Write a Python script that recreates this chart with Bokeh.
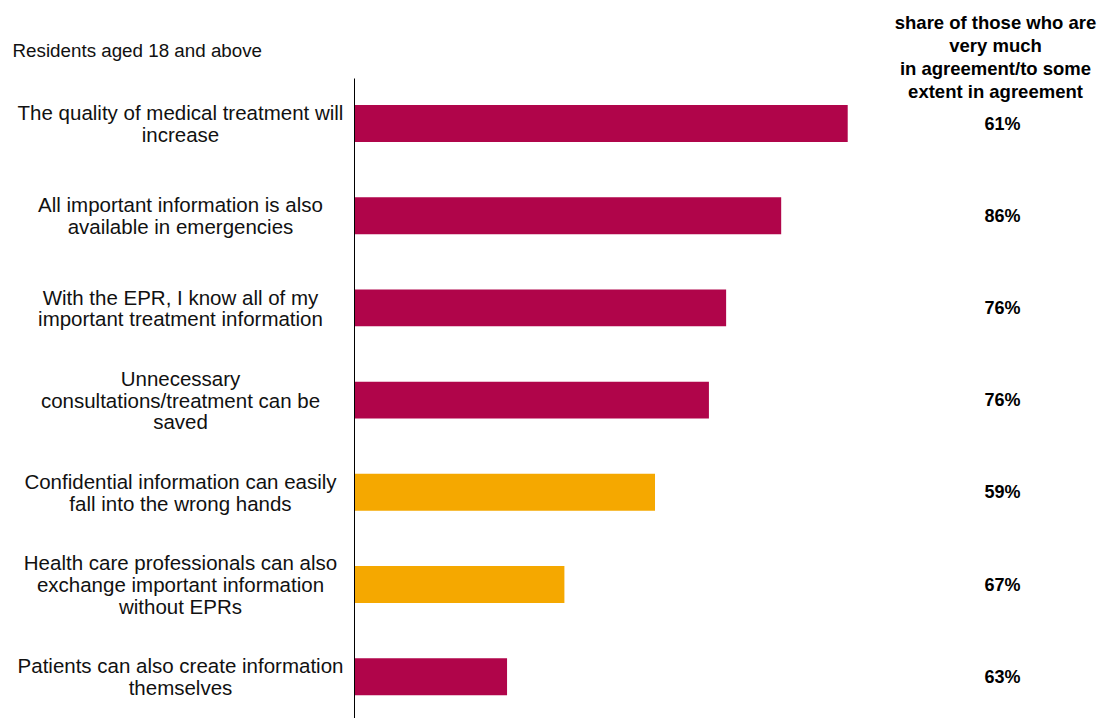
from bokeh.plotting import figure
from bokeh.models import Range1d, ColumnDataSource
from bokeh.core.properties import value
from bokeh.embed import file_html
from bokeh.resources import INLINE

categories = [
    "The quality of medical treatment will\nincrease",
    "All important information is also\navailable in emergencies",
    "With the EPR, I know all of my\nimportant treatment information",
    "Unnecessary\nconsultations/treatment can be\nsaved",
    "Confidential information can easily\nfall into the wrong hands",
    "Health care professionals can also\nexchange important information\nwithout EPRs",
    "Patients can also create information\nthemselves",
]
very_much_agree = [43.0, 37.2, 32.4, 30.9, 26.2, 18.3, 13.3]
share_agree = ["61%", "86%", "76%", "76%", "59%", "67%", "63%"]
statement_type = ["pro", "pro", "pro", "pro", "con", "con", "pro"]
subtitle = "Residents aged 18 and above"
header = "share of those who are\nvery much\nin agreement/to some\nextent in agreement"

COLORS = {"pro": "#B0054A", "con": "#F5A800"}

W, H = 1101, 718
px_per_x = 11.47
x0_px = 354
px_per_y = 92.2
y0_px = 123

xs = -x0_px / px_per_x
xe = xs + W / px_per_x
yt = -y0_px / px_per_y
yb = (H - y0_px) / px_per_y

p = figure(width=W, height=H, output_backend="svg", toolbar_location=None,
           x_range=Range1d(xs, xe), y_range=Range1d(yb, yt),
           min_border=0, outline_line_color=None)
p.axis.visible = False
p.grid.visible = False
p.background_fill_color = "white"

ys = list(range(len(categories)))
src = ColumnDataSource(dict(
    y=ys, v=very_much_agree, cat=categories, share=share_agree,
    color=[COLORS[t] for t in statement_type],
))

p.hbar(y="y", left=0, right="v", height=0.40, fill_color="color",
       line_color=None, source=src)

# vertical axis line
p.segment(x0=[0], y0=[(78 - y0_px) / px_per_y], x1=[0], y1=[yb],
          line_color="#000000", line_width=1)

font = value("Liberation Sans")
p.text(x=(180 - x0_px) / px_per_x, y="y", text="cat", source=src,
       text_font=font, text_font_size="20.5px", text_align="center",
       text_baseline="middle", text_color="#111111", text_line_height=0.94)

p.text(x=(1002 - x0_px) / px_per_x, y="y", text="share", source=src,
       text_font=font, text_font_size="18px", text_font_style="bold",
       text_align="center", text_baseline="middle", text_color="#000000")

p.text(x=[(995 - x0_px) / px_per_x], y=[(56.5 - y0_px) / px_per_y], text=[header],
       text_font=font, text_font_size="18.5px", text_font_style="bold",
       text_align="center", text_baseline="middle", text_color="#000000",
       text_line_height=1.08)

p.text(x=[(12 - x0_px) / px_per_x], y=[(50 - y0_px) / px_per_y], text=[subtitle],
       text_font=font, text_font_size="18.8px", text_align="left",
       text_baseline="middle", text_color="#111111")

open("out.html", "w").write(file_html(p, INLINE))
